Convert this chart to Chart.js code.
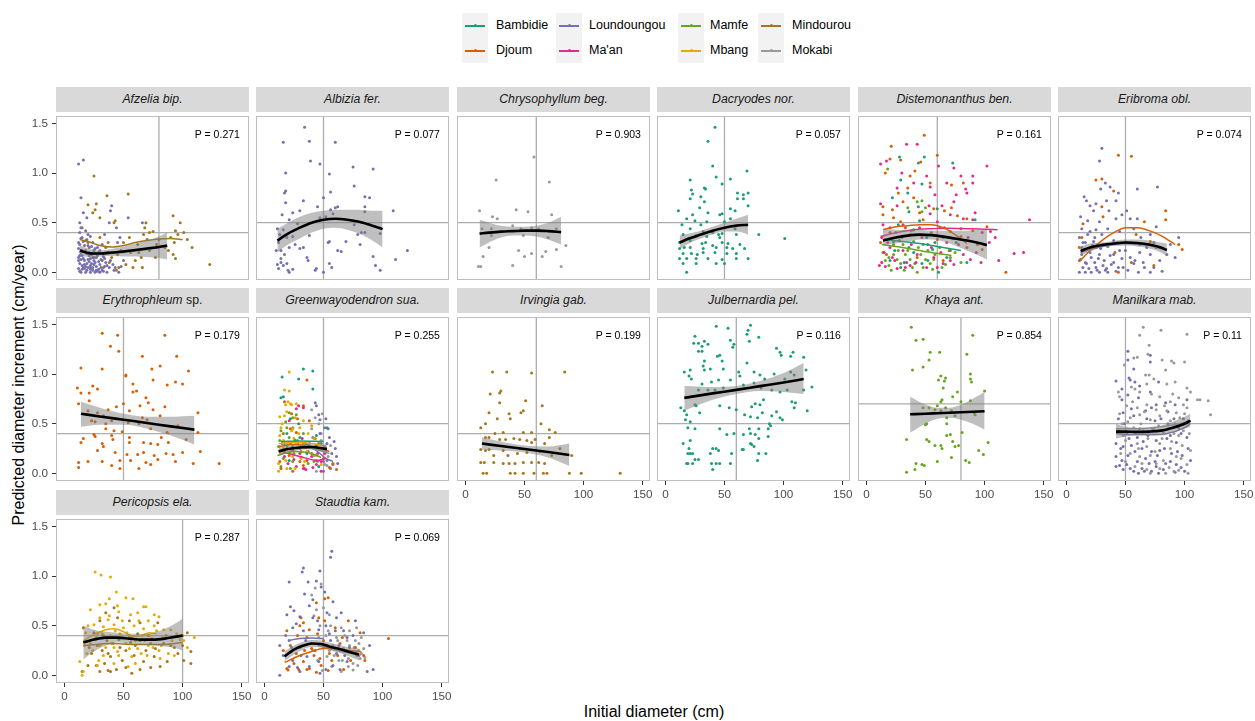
<!DOCTYPE html>
<html>
<head>
<meta charset="utf-8">
<script src="https://cdn.jsdelivr.net/npm/chart.js@4/dist/chart.umd.min.js"></script>
<style>
  body { margin: 0; background: #fff; font-family: "Liberation Sans", Arial, sans-serif; }
  #wrap { position: relative; width: 1255px; height: 721px; overflow: hidden; }
  .strip { position: absolute; height: 25px; background: #D9D9D9; color: #1A1A1A; font-size: 12.3px;
           line-height: 25px; text-align: center; font-style: italic; white-space: nowrap; }
  .strip span { font-style: normal; }
  .panel { position: absolute; }
  .key { position: absolute; width: 26px; height: 25px; background: #F2F2F2; }
  .key i { position: absolute; left: 3px; right: 3px; top: 11.5px; height: 2px; }
  .key b { position: absolute; left: 11.5px; top: 11px; width: 3px; height: 3px; border-radius: 2px; }
  .lab { position: absolute; font-size: 12.5px; line-height: 25px; color: #000; white-space: nowrap; }
  .title { position: absolute; font-size: 16px; color: #000; white-space: nowrap; transform: translate(-50%, -50%); }
  #ytitle { transform: translate(-50%, -50%) rotate(-90deg); }
</style>
</head>
<body>
<div id="wrap">
  <div id="legend"></div>
  <div class="title" id="ytitle" style="left:19px; top:385px;">Predicted diameter increment (cm/year)</div>
  <div class="title" style="left:654px; top:712px;">Initial diameter (cm)</div>
</div>
<script>
const regions = ['Bambidie', 'Djoum', 'Loundoungou', "Ma'an", 'Mamfe', 'Mbang', 'Mindourou', 'Mokabi'];
const regionColors = ['#1B9E77', '#D95F02', '#7570B3', '#E7298A', '#66A61E', '#E6AB02', '#A6761D', '#999999'];

const species = ['Afzelia bip.', 'Albizia fer.', 'Chrysophyllum beg.', 'Dacryodes nor.', 'Distemonanthus ben.',
  'Eribroma obl.', 'Erythrophleum sp.', 'Greenwayodendron sua.', 'Irvingia gab.', 'Julbernardia pel.',
  'Khaya ant.', 'Manilkara mab.', 'Pericopsis ela.', 'Staudtia kam.'];
const pValues = ['0.271', '0.077', '0.903', '0.057', '0.161', '0.074', '0.179', '0.255', '0.199', '0.116', '0.854', '0.11', '0.287', '0.069'];
// reference diameter (vertical) and increment (horizontal) per species
const refX = [80, 50, 60, 50, 60, 50, 50, 50, 60, 60, 80, 50, 100, 50];
const refY = [0.4, 0.5, 0.5, 0.5, 0.5, 0.4, 0.4, 0.5, 0.4, 0.5, 0.7, 0.5, 0.4, 0.4];

const xTicks = [0, 50, 100, 150];
const yTicks = [0, 0.5, 1, 1.5];

// trees: [initial diameter, increment] by region
const afzeliaPts = {
  Loundoungou: [[12,1.09],[16,1.13],[14,0.75],[16,0.6],[19,0.55],[13,0.5],[14,0.45],[18,0.42],[20,0.38],[22,0.36],[15,0.35],[24,0.3],[13,0.28],[17,0.27],[21,0.25],[26,0.24],[30,0.22],[14,0.2],[19,0.19],[23,0.18],[28,0.17],[33,0.16],[12,0.15],[16,0.14],[20,0.13],[25,0.12],[29,0.11],[35,0.1],[13,0.09],[17,0.08],[22,0.07],[27,0.06],[31,0.05],[38,0.05],[12,0.04],[15,0.03],[19,0.02],[24,0.02],[28,0.01],[33,0.01],[14,0],[18,0],[22,0],[26,0],[30,0],[36,0],[42,0.02],[12,0.12],[15,0.22],[18,0.32],[21,0.11],[24,0.05],[27,0.15],[32,0.28],[37,0.2],[40,0.67],[39,0.62],[38,0.5],[44,0.45],[54,0.55],[66,0.5],[45,0.3],[50,0.12],[47,0.35],[41,0.08],[34,0.38],[13,0.4],[16,0.31],[20,0.05],[23,0.26],[13,0.01],[17,0.04],[25,0.08],[29,0.03],[34,0.06],[15,0.17],[19,0.09],[22,0.14],[26,0.19],[31,0.13],
    [12,0.24],[14,0.34],[16,0.05],[18,0.2],[20,0.27],[21,0.17],[23,0.09],[25,0.22],[27,0.02],[29,0.2],[30,0.08],[32,0.02],[34,0.14],[36,0.07],[39,0.12],[43,0.05],[46,0],[48,0.06],[13,0.17],[15,0.07],[17,0.12],[19,0.33],[21,0.2],[24,0.15],[28,0.25],[12,0.3],[14,0.13],[18,0.06],[22,0.03],[26,0.1]],
  Mindourou: [[25,0.97],[54,0.79],[36,0.77],[27,0.69],[20,0.68],[26,0.63],[24,0.6],[30,0.55],[43,0.52],[42,0.5],[92,0.57],[98,0.5],[69,0.5],[68,0.45],[94,0.42],[101,0.4],[67,0.38],[72,0.4],[75,0.41],[90,0.35],[93,0.3],[108,0.25],[123,0.08],[92,0.18],[94,0.14],[58,0.05],[46,0.05],[33,0.05],[50,0.3],[62,0.28],[80,0.33],[85,0.25],[56,0.2],[40,0.15],[30,0.35],[35,0.25],[60,0.12],[72,0.22],[45,0.18],[20,0.3],[15,0.45],[38,0.1],[52,0.08],[65,0.15],[78,0.28],
    [18,0.22],[25,0.15],[32,0.12],[37,0.3],[48,0.22],[55,0.35],[63,0.2],[70,0.33],[77,0.15],[88,0.22],[96,0.38],[104,0.33],[22,0.05],[44,0.02],[66,0.05]]
};
const albiziaPts = {
  Loundoungou: [[34,1.46],[16,1.31],[38,1.32],[60,1.31],[39,1.12],[47,1.09],[18,1.0],[55,0.99],[75,1.06],[92,1.04],[76,0.87],[18,0.82],[17,0.8],[56,0.81],[18,0.7],[33,0.72],[85,0.76],[89,0.75],[30,0.62],[24,0.6],[15,0.58],[45,0.66],[50,0.75],[56,0.63],[60,0.65],[62,0.66],[85,0.66],[85,0.61],[109,0.62],[21,0.53],[28,0.49],[47,0.55],[52,0.56],[58,0.59],[76,0.48],[79,0.38],[82,0.4],[85,0.4],[98,0.39],[11,0.44],[13,0.38],[16,0.43],[19,0.35],[24,0.36],[38,0.37],[54,0.3],[55,0.31],[69,0.31],[81,0.28],[10,0.22],[14,0.22],[17,0.18],[21,0.25],[26,0.28],[30,0.24],[33,0.25],[36,0.15],[37,0.12],[62,0.22],[65,0.21],[55,0.09],[57,0.05],[44,0.04],[50,0],[43,0.02],[24,0.03],[21,0],[12,0.04],[16,0.07],[14,0.1],[11,0.08],[19,0.09],[92,0.16],[94,0.07],[98,0.02],[111,0.13],[121,0.22],[12,0.3],[14,0.14],[20,0.02]]
};
const chrysoPts = {
  Mokabi: [[58,1.16],[26,0.93],[71,0.91],[12,0.62],[23,0.56],[27,0.54],[43,0.63],[53,0.61],[73,0.58],[14,0.44],[22,0.44],[40,0.47],[47,0.44],[56,0.45],[62,0.44],[77,0.44],[22,0.37],[49,0.37],[70,0.35],[85,0.27],[20,0.25],[45,0.22],[50,0.16],[56,0.19],[68,0.21],[77,0.23],[15,0.16],[65,0.16],[11,0.06],[13,0.06],[40,0.07],[81,0.06]]
};
const dacryodesPts = {
  Bambidie: [[42,1.46],[36,1.32],[40,1.07],[21,0.93],[43,0.96],[48,0.89],[55,0.94],[69,1.02],[33,0.85],[34,0.84],[22,0.83],[23,0.79],[30,0.76],[21,0.74],[33,0.71],[61,0.8],[66,0.78],[70,0.8],[61,0.74],[66,0.74],[70,0.67],[11,0.62],[29,0.65],[46,0.58],[23,0.58],[36,0.6],[55,0.64],[59,0.62],[18,0.54],[25,0.52],[30,0.48],[35,0.51],[50,0.51],[48,0.59],[55,0.54],[14,0.48],[21,0.44],[32,0.41],[40,0.4],[48,0.39],[45,0.38],[59,0.44],[15,0.38],[26,0.37],[35,0.36],[46,0.35],[60,0.38],[79,0.38],[101,0.34],[12,0.3],[21,0.32],[31,0.29],[34,0.3],[40,0.27],[48,0.3],[53,0.29],[63,0.28],[12,0.24],[16,0.25],[21,0.25],[32,0.24],[43,0.25],[52,0.25],[57,0.24],[67,0.24],[15,0.19],[22,0.19],[27,0.18],[32,0.2],[42,0.2],[52,0.19],[60,0.19],[12,0.14],[18,0.14],[26,0.14],[36,0.14],[48,0.13],[60,0.14],[70,0.14],[15,0.09],[26,0.09],[43,0.09],[50,0.09],[18,0]]
};
const distemonPts = {
  Djoum: [[21,1.27],[49,1.38],[16,1.0],[20,1.14],[29,1.13],[46,1.11],[41,1.02],[37,0.97],[54,0.9],[72,0.88],[82,0.9],[14,0.66],[22,0.63],[31,0.71],[40,0.75],[14,0.58],[57,0.64],[66,0.62],[77,0.57],[85,0.54],[102,0.46],[118,0],[98,0.23],[94,0.28],[71,0.41],[29,0.51],[48,0.53],[20,0.4],[37,0.38],[60,0.33],[80,0.36],[17,0.18],[43,0.15],[65,0.12],[85,0.25],
    [12,0.3],[23,0.55],[33,0.45],[45,0.6],[52,0.28],[62,0.45],[70,0.22],[90,0.42],[27,0.8],[35,0.85],[72,0.65]],
  Bambidie: [[49,1.16],[44,1.1],[28,1.16],[73,1.1],[29,0.93],[47,0.89],[22,0.75],[44,0.66],[36,0.61],[60,0.64],[92,0.53],[80,0.44],[27,0.48],[40,0.43],[51,0.35],[65,0.35],[23,0.31],[36,0.25],[56,0.23],[71,0.22],[20,0.12],[61,0],[47,0.09],[29,0.05],
    [24,0.22],[32,0.1],[40,0.2],[52,0.12],[58,0.3],[68,0.15],[76,0.3],[85,0.1],[45,0.52],[35,0.8]],
  "Ma'an": [[34,1.29],[43,1.29],[12,1.09],[17,1.12],[30,1.0],[51,0.97],[61,1.07],[74,1.05],[102,1.07],[80,0.97],[90,0.97],[90,0.9],[54,0.86],[68,0.9],[84,0.84],[85,0.8],[76,0.78],[12,0.69],[26,0.67],[53,0.67],[64,0.67],[74,0.71],[54,0.59],[71,0.58],[82,0.54],[90,0.53],[138,0.53],[14,0.48],[31,0.48],[60,0.51],[105,0.41],[109,0.35],[104,0.3],[125,0.19],[133,0.2],[13,0.35],[20,0.25],[31,0.22],[43,0.18],[57,0.15],[71,0.12],[82,0.18],[13,0.1],[16,0.06],[26,0.04],[37,0.07],[51,0.05],[65,0.09],[88,0.13],[97,0.1],[11,0.07],[22,0.15],[34,0.1],
    [15,0.2],[18,0.3],[24,0.12],[28,0.32],[33,0.05],[38,0.28],[42,0.1],[47,0.35],[55,0.25],[60,0.05],[63,0.2],[68,0.3],[74,0.08],[78,0.28],[86,0.35],[93,0.2],[98,0.4],[112,0.12],[45,0.45],[20,0.45],[66,0.45],[92,0.6],[26,0.85],[40,0.9],[58,0.78]],
  Mamfe: [[18,1.04],[47,0.72],[43,0.71],[50,0.65],[35,0.65],[47,0.61],[23,0.18],[26,0.13],[29,0.09],[33,0.18],[37,0.13],[41,0.09],[46,0.18],[50,0.13],[54,0.09],[58,0.18],[16,0.12],[19,0.07],[43,0],[56,0.03],[31,0.28],[40,0.31],[48,0.28],[30,0.35],[23,0.28],[64,0.05],[71,0.15],
    [14,0.2],[19,0.15],[21,0.02],[27,0.22],[32,0.02],[35,0.22],[39,0.05],[44,0.25],[48,0.05],[52,0.22],[57,0.13],[62,0.25],[67,0.08],[75,0.2],[80,0.1],[25,0.4],[38,0.42],[55,0.4]],
  Mindourou: [[60,1.18]]
};
const eribromaPts = {
  Loundoungou: [[30,1.25],[28,1.12],[33,0.9],[37,0.86],[29,0.84],[60,0.84],[77,0.86],[44,0.8],[15,0.76],[17,0.72],[20,0.67],[25,0.69],[34,0.72],[42,0.72],[23,0.62],[36,0.62],[51,0.62],[47,0.58],[12,0.56],[18,0.52],[28,0.51],[42,0.54],[54,0.54],[60,0.54],[76,0.46],[13,0.44],[20,0.41],[25,0.43],[35,0.44],[45,0.41],[57,0.44],[71,0.38],[95,0.35],[11,0.35],[16,0.3],[23,0.31],[31,0.28],[40,0.32],[51,0.3],[62,0.28],[76,0.25],[85,0.18],[92,0.15],[13,0.25],[20,0.2],[28,0.18],[37,0.17],[45,0.22],[54,0.15],[62,0.2],[71,0.18],[12,0.13],[17,0.09],[24,0.1],[31,0.07],[40,0.1],[48,0.05],[57,0.09],[65,0.1],[74,0.05],[81,0.01],[11,0],[16,0],[21,0],[28,0],[35,0],[42,0.01],[61,0],[14,0.05],[25,0.05],[34,0.04],[71,0],
    [13,0.18],[14,0.3],[16,0.1],[18,0.38],[19,0.04],[21,0.15],[22,0.27],[24,0.35],[26,0.02],[27,0.14],[29,0.24],[30,0.38],[32,0.12],[33,0.02],[35,0.26],[38,0.08],[40,0.18],[43,0.3],[44,0.05],[47,0.14],[50,0.22],[52,0.02],[55,0.3],[58,0.12],[63,0.35],[66,0.05],[68,0.25],[74,0.3],[79,0.12],[88,0.28]],
  Djoum: [[44,1.18],[55,1.17],[25,0.93],[30,0.94],[40,0.82],[84,0.62],[84,0.53],[66,0.51],[31,0.56],[30,0.66],[14,0.49],[13,0.35],[11,0.25],[11,0.12],[59,0.38],[71,0.31],[98,0.23],[74,0.07],[44,0],[55,0.1],[95,0.28],[25,0.25],[41,0.2]]
};
const erythroPts = {
  Djoum: [[32,1.41],[45,1.39],[85,1.39],[39,1.28],[46,1.23],[66,1.18],[95,1.18],[14,1.06],[32,1.05],[74,1.05],[81,1.08],[105,1.03],[52,0.99],[52,0.98],[75,0.94],[11,0.86],[14,0.81],[24,0.88],[21,0.81],[28,0.85],[58,0.9],[61,0.83],[58,0.82],[87,0.89],[94,0.92],[100,0.9],[69,0.76],[71,0.71],[64,0.68],[21,0.73],[12,0.7],[44,0.67],[50,0.7],[37,0.64],[55,0.63],[85,0.67],[75,0.64],[20,0.63],[28,0.61],[33,0.58],[23,0.53],[26,0.52],[35,0.5],[40,0.53],[66,0.56],[70,0.54],[81,0.58],[113,0.61],[96,0.48],[63,0.5],[54,0.51],[35,0.45],[42,0.43],[49,0.42],[73,0.45],[87,0.41],[113,0.41],[25,0.39],[26,0.37],[40,0.38],[55,0.36],[82,0.36],[103,0.34],[16,0.35],[14,0.31],[32,0.3],[41,0.34],[55,0.31],[67,0.31],[73,0.3],[79,0.29],[88,0.31],[28,0.23],[33,0.27],[43,0.21],[53,0.19],[62,0.19],[67,0.21],[76,0.18],[86,0.2],[92,0.19],[100,0.21],[115,0.22],[47,0.13],[56,0.13],[69,0.11],[79,0.14],[94,0.12],[20,0.12],[32,0.12],[12,0.11],[12,0.06],[40,0.08],[47,0.05],[63,0.05],[73,0.09],[109,0.1],[131,0.1]]
};
const greenwayPts = {
  Bambidie: [[33,1.05],[41,1.03],[15,0.97],[29,0.95],[41,0.85],[14,0.76],[16,0.77],[19,0.4],[30,0.36],[44,0.38],[24,0.27],[36,0.2],[21,0.13],[46,0.07],[53,0.46],
    [17,0.3],[26,0.33],[35,0.3],[42,0.25],[22,0.55],[29,0.5]],
  Mbang: [[21,1.02],[17,0.84],[21,0.83],[18,0.69],[23,0.69],[13,0.57],[17,0.58],[26,0.56],[33,0.53],[14,0.46],[23,0.43],[30,0.46],[37,0.4],[16,0.33],[27,0.3],[38,0.27],[14,0.2],[24,0.17],[34,0.12],[44,0.18],[19,0.05],[12,0.02],[48,0.09],[40,0.48],[19,0.62],
    [13,0.38],[16,0.25],[20,0.3],[22,0.22],[25,0.35],[28,0.25],[31,0.15],[35,0.3],[12,0.1],[18,0.13],[26,0.05],[29,0.4],[15,0.5],[24,0.45],[36,0.22],[42,0.35],[20,0.72],[22,0.7],[27,0.7]],
  Djoum: [[36,0.94],[17,0.72],[33,0.68],[23,0.6],[38,0.53],[27,0.41],[43,0.35],[19,0.25],[31,0.22],[44,0.13],[55,0.06],[61,0.04],[13,0.12],[24,0.02],
    [15,0.3],[21,0.18],[26,0.32],[30,0.12],[35,0.26],[40,0.2],[46,0.3],[50,0.15],[58,0.1],[14,0.05],[22,0.45],[28,0.55],[33,0.08]],
  "Ma'an": [[29,0.68],[33,0.66],[21,0.53],[30,0.2],[36,0.13],[40,0.17],[44,0.09],[48,0.12],[27,0.07],[33,0.05],[38,0.27],[44,0.28],[24,0.23],[17,0.17],[51,0.2],
    [20,0.1],[25,0.14],[28,0.3],[35,0.04],[41,0.06],[45,0.2],[32,0.35],[37,0.22],[48,0.02],[22,0.3],[27,0.65]],
  Mamfe: [[21,0.61],[27,0.59],[14,0.43],[21,0.36],[33,0.4],[12,0.27],[17,0.22],[24,0.12],[14,0.07],[30,0.25],[37,0.1],[19,0.46],
    [13,0.33],[16,0.15],[19,0.28],[22,0.05],[25,0.2],[28,0.33],[31,0.16],[34,0.05],[38,0.3],[42,0.12],[18,0.52],[24,0.56]],
  Loundoungou: [[43,0.71],[44,0.68],[46,0.59],[47,0.54],[51,0.46],[54,0.45],[55,0.36],[60,0.25],[57,0.2],[61,0.17],[53,0.13],[58,0.09],[50,0.02],[48,0.3],[41,0.36],
    [45,0.25],[50,0.12],[53,0.3],[56,0.05],[59,0.32],[62,0.1],[47,0.4],[52,0.55]],
  Mokabi: [[40,0.64],[46,0.5],[43,0.56],[48,0.4],[47,0.25],[51,0.27],[54,0.17],[51,0.09],[44,0.02],
    [38,0.3],[42,0.18],[45,0.12],[48,0.33],[53,0.08],[56,0.28],[40,0.45],[49,0.6]],
  Mindourou: [[16,0.4],[24,0.46],[33,0.3]]
};
const irvingiaPts = {
  Mindourou: [[23,1.02],[35,1.02],[56,1.01],[84,1.02],[30,0.83],[29,0.81],[21,0.8],[51,0.73],[65,0.68],[20,0.61],[29,0.71],[37,0.6],[38,0.55],[47,0.61],[49,0.63],[27,0.55],[17,0.5],[13,0.46],[32,0.41],[25,0.4],[49,0.41],[56,0.41],[64,0.5],[71,0.44],[76,0.41],[17,0.36],[20,0.36],[29,0.34],[34,0.34],[41,0.35],[46,0.34],[52,0.33],[59,0.34],[67,0.3],[71,0.36],[13,0.24],[17,0.23],[20,0.24],[24,0.18],[32,0.23],[36,0.18],[44,0.2],[52,0.21],[63,0.22],[73,0.18],[80,0.25],[90,0.18],[13,0.11],[16,0.11],[24,0.11],[32,0.1],[37,0.1],[42,0.1],[49,0.11],[56,0.11],[62,0.11],[67,0.1],[15,0],[18,0],[38,0],[42,0],[49,0],[58,0],[66,0],[69,0],[88,0],[98,0],[131,0],[56,0.31],[46,0.25]]
};
const julberPts = {
  Bambidie: [[43,1.48],[53,1.46],[72,1.49],[70,1.44],[69,1.4],[79,1.37],[25,1.38],[24,1.31],[28,1.31],[33,1.33],[36,1.3],[31,1.28],[28,1.23],[31,1.23],[55,1.34],[58,1.3],[57,1.27],[71,1.33],[94,1.26],[97,1.22],[98,1.19],[108,1.22],[106,1.18],[117,1.17],[44,1.18],[46,1.19],[33,1.13],[48,1.13],[69,1.11],[32,1.08],[38,1.05],[16,1.02],[21,1.04],[20,0.98],[22,0.95],[33,1.04],[49,1.05],[62,1.02],[75,1.02],[80,0.99],[84,0.95],[92,1.0],[101,0.95],[106,1.02],[119,1.04],[109,0.99],[124,0.87],[31,0.9],[39,0.92],[45,0.94],[36,0.84],[55,0.94],[63,0.98],[66,0.89],[75,0.91],[81,0.86],[90,0.84],[97,0.82],[103,0.84],[117,0.84],[28,0.84],[42,0.84],[49,0.86],[25,0.69],[26,0.68],[13,0.66],[16,0.63],[18,0.59],[17,0.54],[21,0.52],[29,0.61],[46,0.68],[54,0.66],[60,0.64],[73,0.67],[83,0.74],[76,0.7],[80,0.69],[94,0.62],[90,0.58],[82,0.61],[67,0.59],[72,0.57],[78,0.56],[97,0.56],[99,0.54],[107,0.72],[110,0.71],[109,0.66],[120,0.63],[19,0.46],[25,0.45],[46,0.45],[71,0.45],[79,0.45],[88,0.5],[89,0.48],[87,0.45],[15,0.3],[21,0.33],[20,0.25],[52,0.39],[58,0.4],[66,0.39],[72,0.4],[76,0.39],[79,0.35],[87,0.37],[19,0.2],[21,0.2],[23,0.2],[38,0.2],[40,0.25],[43,0.25],[45,0.23],[56,0.2],[65,0.24],[66,0.24],[72,0.3],[73,0.29],[75,0.27],[79,0.2],[85,0.2],[25,0.14],[28,0.14],[18,0.1],[19,0.1],[23,0.1],[39,0.1],[43,0.1],[46,0.1],[55,0.1],[78,0.13],[40,0.04]]
};
const khayaPts = {
  Mamfe: [[38,1.47],[48,1.35],[42,1.34],[90,1.39],[54,1.22],[85,1.2],[53,1.14],[39,1.04],[48,1.07],[62,1.22],[63,0.98],[61,0.94],[67,0.96],[66,0.93],[88,1.0],[88,0.95],[89,0.92],[100,0.83],[65,0.86],[77,0.82],[64,0.74],[63,0.72],[73,0.77],[80,0.72],[88,0.73],[48,0.66],[53,0.66],[60,0.68],[67,0.66],[58,0.64],[63,0.63],[72,0.63],[91,0.61],[92,0.59],[68,0.56],[75,0.58],[50,0.49],[51,0.5],[68,0.5],[103,0.31],[34,0.34],[51,0.34],[53,0.32],[58,0.28],[63,0.28],[64,0.25],[68,0.38],[71,0.39],[73,0.32],[75,0.27],[78,0.28],[81,0.41],[95,0.23],[99,0.19],[72,0.16],[60,0.12],[84,0.13],[87,0.11],[42,0.1],[47,0.09],[49,0.08],[41,0.04],[34,0.01]]
};
const manilkaraPts = {
  Mokabi: [[65,1.47],[62,1.39],[80,1.44],[102,1.4],[70,1.29],[69,1.2],[57,1.16],[60,1.17],[81,1.14],[89,1.13],[91,1.11],[100,1.12],[49,1.09],[84,1.04],[67,0.99],[70,0.99],[74,0.95],[85,0.9],[92,0.92],[102,0.86],[105,0.82],[111,0.74],[113,0.74],[120,0.73],[122,0.59],[44,0.82],[45,0.77],[55,0.87],[62,0.82],[79,0.77],[88,0.72],[95,0.76],[99,0.69],[51,0.68],[60,0.66],[68,0.69],[76,0.64],[85,0.63],[93,0.61],[102,0.66],[54,0.56],[62,0.59],[71,0.54],[79,0.58],[88,0.53],[96,0.56],[103,0.53],[47,0.5],[57,0.46],[65,0.43],[74,0.45],[82,0.41],[91,0.4],[99,0.43],[50,0.33],[60,0.3],[68,0.27],[79,0.3],[88,0.25],[98,0.28],[105,0.23],[54,0.2],[62,0.17],[71,0.18],[82,0.13],[93,0.17],[102,0.09],[58,0.07],[68,0.04],[79,0.05],[91,0.02],[103,0],[84,0],[71,0],
    [45,0.6],[48,0.38],[52,0.52],[56,0.72],[58,0.4],[61,0.25],[63,0.5],[66,0.62],[69,0.35],[72,0.8],[75,0.22],[78,0.48],[81,0.35],[83,0.68],[86,0.45],[89,0.32],[92,0.5],[95,0.38],[97,0.15],[100,0.6],[104,0.4],[46,0.2],[50,0.12],[64,0.1],[76,0.1],[87,0.06],[95,0.03],[58,0.85],[68,0.9],[90,0.8]],
  Loundoungou: [[52,1.23],[52,1.14],[71,1.19],[53,0.96],[54,0.94],[42,0.93],[71,1.12],[58,0.92],[78,0.92],[47,0.74],[52,0.79],[61,0.76],[71,0.82],[76,0.69],[84,0.71],[72,0.66],[92,0.69],[102,0.74],[48,0.61],[57,0.58],[67,0.63],[75,0.53],[86,0.5],[95,0.46],[44,0.43],[51,0.4],[60,0.36],[69,0.38],[76,0.33],[85,0.35],[93,0.31],[102,0.36],[42,0.3],[48,0.27],[55,0.28],[64,0.25],[72,0.22],[79,0.23],[89,0.2],[98,0.18],[105,0.13],[42,0.17],[47,0.13],[52,0.18],[60,0.12],[67,0.15],[75,0.12],[84,0.1],[93,0.09],[42,0.07],[48,0.04],[57,0.02],[64,0.05],[72,0.02],[82,0.04],[92,0.01],[100,0.02],[51,0.09],[61,0],[76,0.07],
    [44,0.55],[46,0.25],[49,0.5],[53,0.35],[55,0.65],[58,0.22],[62,0.45],[65,0.32],[68,0.55],[70,0.1],[73,0.45],[77,0.18],[80,0.55],[83,0.25],[86,0.62],[88,0.38],[91,0.55],[94,0.22],[97,0.4],[99,0.55],[103,0.25],[45,0.08],[54,0.05],[66,0.02],[78,0],[88,0.12],[97,0.06],[62,0.88],[57,1.05],[47,0.85]]
};
const pericopsisPts = {
  Mbang: [[26,1.04],[31,1.01],[39,0.99],[44,0.84],[52,0.78],[58,0.77],[38,0.77],[30,0.71],[22,0.66],[67,0.69],[69,0.69],[46,0.64],[56,0.61],[62,0.63],[76,0.61],[80,0.59],[30,0.58],[37,0.56],[49,0.55],[71,0.55],[25,0.51],[33,0.49],[42,0.51],[50,0.48],[59,0.5],[67,0.47],[76,0.5],[84,0.46],[90,0.46],[18,0.43],[28,0.42],[39,0.4],[47,0.42],[57,0.38],[66,0.4],[74,0.37],[83,0.38],[91,0.35],[98,0.36],[101,0.35],[22,0.32],[30,0.3],[42,0.28],[52,0.32],[62,0.27],[71,0.3],[80,0.25],[19,0.22],[33,0.2],[45,0.24],[57,0.19],[70,0.2],[81,0.17],[93,0.2],[13,0.14],[28,0.1],[42,0.12],[54,0.09],[15,0],[16,0.04],[110,0.38],[104,0.28],
    [17,0.3],[20,0.5],[24,0.25],[27,0.38],[29,0.15],[32,0.42],[35,0.28],[38,0.6],[40,0.32],[43,0.45],[46,0.2],[49,0.38],[53,0.43],[55,0.27],[60,0.35],[63,0.55],[65,0.22],[68,0.35],[72,0.4],[75,0.28],[78,0.45],[82,0.3],[86,0.38],[88,0.22],[95,0.42],[45,0.7],[35,0.72],[60,0.12]],
  Mindourou: [[42,0.68],[35,0.63],[45,0.58],[30,0.55],[55,0.55],[64,0.53],[79,0.53],[16,0.48],[25,0.43],[36,0.35],[46,0.36],[56,0.33],[64,0.35],[73,0.32],[84,0.32],[93,0.28],[100,0.3],[107,0.24],[23,0.22],[32,0.25],[39,0.19],[49,0.15],[59,0.2],[67,0.14],[76,0.19],[87,0.14],[101,0.15],[107,0.12],[27,0.1],[30,0.04],[37,0.05],[44,0.06],[57,0.02],[64,0.06],[81,0.09],[15,0.04],[104,0.43],[100,0.4],[39,0.04],
    [18,0.35],[21,0.28],[28,0.3],[33,0.4],[37,0.22],[41,0.32],[47,0.28],[52,0.25],[55,0.4],[60,0.3],[62,0.42],[69,0.25],[71,0.4],[77,0.27],[86,0.4],[90,0.3],[96,0.22],[34,0.12],[52,0.08],[73,0.08],[20,0.1]]
};
const staudtiaPts = {
  Loundoungou: [[57,1.25],[56,1.19],[33,1.08],[32,1.04],[47,1.05],[21,0.94],[37,0.94],[48,0.89],[51,0.84],[22,0.69],[25,0.65],[41,0.76],[53,0.63],[58,0.74],[19,0.61],[30,0.59],[41,0.58],[61,0.58],[65,0.63],[77,0.55],[24,0.48],[33,0.45],[46,0.46],[55,0.42],[67,0.45],[75,0.4],[84,0.43],[13,0.3],[21,0.35],[30,0.28],[40,0.32],[61,0.22],[72,0.28],[89,0.3],[16,0.2],[24,0.15],[36,0.19],[46,0.14],[58,0.1],[70,0.14],[87,0.04],[92,0.06],[13,0],[30,0.04],[47,0.02],[64,0.06],[38,0.09],[21,0.09],
    [18,0.4],[23,0.28],[27,0.52],[31,0.2],[35,0.35],[38,0.7],[43,0.25],[45,0.55],[50,0.3],[52,0.5],[56,0.35],[60,0.45],[63,0.3],[68,0.2],[70,0.38],[80,0.2],[34,0.82],[44,0.95],[28,0.08],[52,0.06]],
  Djoum: [[51,0.77],[54,0.78],[44,0.73],[31,0.58],[33,0.53],[46,0.58],[51,0.55],[71,0.55],[30,0.5],[38,0.46],[60,0.48],[81,0.43],[105,0.37],[19,0.45],[36,0.38],[50,0.35],[64,0.32],[77,0.28],[85,0.15],[16,0.25],[27,0.22],[40,0.27],[55,0.22],[70,0.24],[19,0.07],[29,0.06],[38,0.07],[44,0.03],[54,0.05],[67,0.06],[20,0.055],[33,0.14],[47,0.17],
    [22,0.3],[25,0.12],[28,0.4],[34,0.25],[36,0.06],[42,0.2],[45,0.42],[48,0.1],[53,0.3],[57,0.15],[62,0.2],[66,0.38],[73,0.15],[78,0.22],[84,0.2]],
  Mokabi: [[48,0.92],[43,0.88],[40,0.81],[44,0.66],[50,0.68],[55,0.61],[65,0.48],[72,0.45],[78,0.48],[54,0.45],[46,0.38],[61,0.38],[70,0.35],[77,0.35],[80,0.32],[82,0.38],[50,0.28],[58,0.3],[67,0.27],[74,0.24],[78,0.2],[81,0.17],[41,0.25],[53,0.19],[63,0.15],[71,0.17],[75,0.12],[57,0.09],[65,0.04],[75,0.055],[71,0.09],[82,0.22],[84,0.27],
    [42,0.6],[47,0.5],[52,0.4],[56,0.5],[59,0.2],[62,0.35],[66,0.15],[68,0.4],[72,0.3],[76,0.28],[79,0.1],[80,0.25],[45,0.15],[49,0.05],[55,0.25],[85,0.18]]
};

// overall smoother: [diameter, fit, lower, upper]
const afzeliaFit = [[13,0.22,0.17,0.27],[20,0.195,0.155,0.24],[25,0.19,0.155,0.225],[30,0.19,0.16,0.22],[40,0.2,0.165,0.235],[50,0.21,0.16,0.26],[60,0.225,0.16,0.29],[70,0.24,0.155,0.32],[80,0.255,0.145,0.36],[87,0.27,0.13,0.4]];
const albiziaFit = [[11,0.32,0.2,0.44],[20,0.39,0.28,0.5],[30,0.45,0.34,0.56],[40,0.5,0.4,0.6],[50,0.53,0.44,0.62],[60,0.54,0.45,0.63],[70,0.53,0.43,0.63],[80,0.51,0.39,0.63],[90,0.475,0.33,0.62],[100,0.435,0.25,0.62]];
const chrysoFit = [[12,0.39,0.25,0.53],[20,0.4,0.3,0.5],[30,0.41,0.35,0.47],[40,0.415,0.37,0.46],[50,0.42,0.37,0.46],[60,0.42,0.36,0.47],[70,0.415,0.33,0.5],[81,0.405,0.28,0.56]];
const dacryodesFit = [[12,0.3,0.23,0.37],[20,0.34,0.29,0.39],[30,0.38,0.34,0.42],[40,0.42,0.38,0.46],[50,0.45,0.41,0.5],[60,0.47,0.41,0.54],[70,0.48,0.38,0.58]];
const distemonFit = [[14,0.32,0.27,0.44],[25,0.35,0.29,0.43],[35,0.37,0.31,0.43],[45,0.38,0.33,0.43],[55,0.375,0.33,0.42],[65,0.36,0.31,0.42],[75,0.34,0.27,0.42],[85,0.32,0.22,0.42],[95,0.295,0.17,0.43],[102,0.275,0.13,0.43]];
const eribromaFit = [[12,0.215,0.17,0.26],[20,0.25,0.21,0.29],[30,0.275,0.25,0.3],[40,0.29,0.265,0.315],[50,0.3,0.27,0.33],[60,0.295,0.26,0.33],[70,0.28,0.24,0.32],[80,0.25,0.2,0.3],[85,0.225,0.16,0.29]];
const erythroFit = [[14,0.6,0.47,0.72],[30,0.573,0.49,0.66],[50,0.54,0.49,0.6],[70,0.507,0.45,0.57],[90,0.473,0.38,0.57],[110,0.44,0.29,0.58]];
const greenwayFit = [[12,0.22,0.17,0.27],[20,0.245,0.21,0.28],[30,0.26,0.235,0.285],[40,0.265,0.24,0.29],[50,0.25,0.21,0.29],[53,0.245,0.19,0.3]];
const irvingiaFit = [[14,0.3,0.24,0.36],[30,0.275,0.23,0.32],[50,0.245,0.21,0.28],[70,0.215,0.16,0.27],[88,0.185,0.075,0.3]];
const julberFit = [[16,0.76,0.63,0.88],[40,0.805,0.74,0.87],[60,0.84,0.8,0.88],[80,0.878,0.83,0.93],[100,0.915,0.82,1.01],[117,0.95,0.8,1.11]];
const khayaFit = [[37,0.595,0.41,0.77],[50,0.6,0.5,0.69],[60,0.605,0.55,0.66],[70,0.61,0.56,0.66],[80,0.615,0.54,0.69],[90,0.62,0.5,0.75],[100,0.625,0.44,0.82]];
const manilkaraFit = [[42,0.42,0.35,0.5],[50,0.42,0.37,0.47],[60,0.418,0.38,0.46],[70,0.42,0.38,0.46],[80,0.43,0.38,0.48],[90,0.46,0.41,0.52],[100,0.5,0.45,0.57],[105,0.53,0.47,0.6]];
const pericopsisFit = [[16,0.33,0.16,0.5],[25,0.36,0.24,0.46],[35,0.38,0.3,0.44],[45,0.38,0.33,0.43],[55,0.37,0.32,0.42],[65,0.36,0.31,0.42],[75,0.36,0.3,0.43],[85,0.37,0.29,0.47],[95,0.39,0.27,0.53],[100,0.4,0.25,0.57]];
const staudtiaFit = [[17,0.19,0.14,0.24],[25,0.26,0.21,0.3],[33,0.3,0.26,0.34],[40,0.32,0.285,0.355],[48,0.315,0.28,0.35],[55,0.29,0.255,0.33],[65,0.26,0.22,0.3],[72,0.235,0.19,0.28],[80,0.21,0.15,0.27]];

// smoothers per region (only where more than one region grows the species)
const afzeliaCurves = {
  Mindourou: [[13,0.33],[20,0.31],[30,0.27],[40,0.255],[50,0.27],[60,0.3],[70,0.32],[80,0.335],[90,0.34],[100,0.33]],
  Loundoungou: [[13,0.21],[20,0.19],[30,0.185],[40,0.19],[50,0.2],[60,0.215],[70,0.23],[80,0.25],[87,0.26]]
};
const distemonCurves = {
  Djoum: [[14,0.43],[25,0.46],[35,0.47],[45,0.48],[55,0.48],[65,0.45],[75,0.38],[85,0.29]],
  "Ma'an": [[12,0.36],[25,0.4],[40,0.43],[55,0.44],[70,0.445],[85,0.44],[100,0.435],[111,0.43]],
  Bambidie: [[17,0.33],[30,0.31],[45,0.29],[60,0.26],[80,0.22]],
  Mamfe: [[13,0.28],[25,0.26],[40,0.23],[55,0.2],[72,0.17]]
};
const eribromaCurves = {
  Djoum: [[12,0.12],[20,0.22],[30,0.32],[40,0.4],[50,0.45],[60,0.45],[70,0.42],[80,0.37],[92,0.28]],
  Loundoungou: [[12,0.2],[30,0.26],[50,0.29],[70,0.27],[85,0.22]]
};
const greenwayCurves = {
  Mbang: [[12,0.3],[25,0.31],[40,0.3],[50,0.28]],
  Djoum: [[12,0.27],[25,0.29],[40,0.27],[55,0.22]],
  Mamfe: [[11,0.18],[25,0.22],[40,0.2],[48,0.16]],
  "Ma'an": [[15,0.22],[30,0.17],[45,0.13],[52,0.15]],
  Mokabi: [[30,0.28],[40,0.25],[50,0.22],[55,0.2]],
  Loundoungou: [[35,0.3],[45,0.22],[52,0.15],[58,0.12]],
  Bambidie: [[14,0.32],[30,0.325],[50,0.32]]
};
const manilkaraCurves = {
  Mokabi: [[42,0.45],[60,0.45],[80,0.47],[95,0.5],[105,0.53]],
  Loundoungou: [[42,0.4],[55,0.39],[70,0.39],[85,0.4],[100,0.46],[105,0.5]]
};
const pericopsisCurves = {
  Mbang: [[16,0.35],[25,0.41],[35,0.46],[42,0.47],[50,0.44],[58,0.39],[65,0.4],[72,0.43],[78,0.42]],
  Mindourou: [[16,0.3],[40,0.32],[60,0.31],[80,0.31],[100,0.33]]
};
const staudtiaCurves = {
  Loundoungou: [[20,0.35],[30,0.37],[40,0.375],[50,0.37]],
  Djoum: [[17,0.13],[30,0.2],[40,0.24],[50,0.27],[60,0.27],[70,0.255],[82,0.235]],
  Mokabi: [[45,0.3],[55,0.27],[65,0.24],[75,0.22],[82,0.21]]
};

const panels = [
  { pts: afzeliaPts, fit: afzeliaFit, curves: afzeliaCurves },
  { pts: albiziaPts, fit: albiziaFit, curves: {} },
  { pts: chrysoPts, fit: chrysoFit, curves: {} },
  { pts: dacryodesPts, fit: dacryodesFit, curves: {} },
  { pts: distemonPts, fit: distemonFit, curves: distemonCurves },
  { pts: eribromaPts, fit: eribromaFit, curves: eribromaCurves },
  { pts: erythroPts, fit: erythroFit, curves: {} },
  { pts: greenwayPts, fit: greenwayFit, curves: greenwayCurves },
  { pts: irvingiaPts, fit: irvingiaFit, curves: {} },
  { pts: julberPts, fit: julberFit, curves: {} },
  { pts: khayaPts, fit: khayaFit, curves: {} },
  { pts: manilkaraPts, fit: manilkaraFit, curves: manilkaraCurves },
  { pts: pericopsisPts, fit: pericopsisFit, curves: pericopsisCurves },
  { pts: staudtiaPts, fit: staudtiaFit, curves: staudtiaCurves }
];

// facet grid geometry
const colLeft = [56, 256, 457, 657, 858, 1058];
const stripTop = [87, 288, 490];
const plotW = 193, plotH = 168, stripH = 25;
const xMin = -7.1, xMax = 156.2, yMin = -0.077, yMax = 1.574;

const colorOf = r => regionColors[regions.indexOf(r)];
const xy = arr => arr.map(p => ({ x: p[0], y: p[1] }));
const fontFamily = '"Liberation Sans", Arial, sans-serif';

Chart.defaults.font.family = fontFamily;
Chart.defaults.animation = false;

// legend: 4 columns of 2 keys
const legend = document.getElementById('legend');
const legKeyX = [462, 556, 678, 758];
const legTextX = [496, 589, 710, 792];
regions.forEach((r, k) => {
  const c = Math.floor(k / 2), row = k % 2;
  const top = 13 + row * 25;
  legend.insertAdjacentHTML('beforeend',
    `<div class="key" style="left:${legKeyX[c]}px;top:${top}px"><i style="background:${colorOf(r)}"></i><b style="background:${colorOf(r)}"></b></div>` +
    `<div class="lab" style="left:${legTextX[c]}px;top:${top}px">${r}</div>`);
});

// box and P value for each facet
const panelDecor = {
  id: 'panelDecor',
  afterDatasetsDraw(chart, args, opts) {
    const { ctx, chartArea: a, scales: { x, y } } = chart;
    ctx.save();
    ctx.strokeStyle = '#BEBEBE';
    ctx.lineWidth = 1;
    ctx.strokeRect(a.left + 0.5, a.top + 0.5, a.width - 1, a.height - 1);
    ctx.fillStyle = '#000';
    ctx.font = '10.5px ' + fontFamily;
    ctx.textAlign = 'right';
    ctx.textBaseline = 'middle';
    ctx.fillText('P = ' + opts.p, x.getPixelForValue(148.5), y.getPixelForValue(1.385));
    ctx.restore();
  }
};

const wrap = document.getElementById('wrap');

species.forEach((name, i) => {
  const row = Math.floor(i / 6), col = i % 6;
  const hasY = col === 0;
  const hasX = row === 2 || (row === 1 && col >= 2);
  const left = colLeft[col], top = stripTop[row];

  const strip = document.createElement('div');
  strip.className = 'strip';
  strip.style.cssText = `left:${left}px;top:${top}px;width:${plotW}px`;
  strip.innerHTML = name.endsWith(' sp.') ? name.replace(' sp.', ' <span>sp.</span>') : name;
  wrap.appendChild(strip);

  const box = document.createElement('div');
  box.className = 'panel';
  box.style.cssText = `left:${left - 50}px;top:${top + stripH}px`;
  const cv = document.createElement('canvas');
  cv.width = plotW + 60;
  cv.height = plotH + 30;
  box.appendChild(cv);
  wrap.appendChild(box);

  const P = panels[i];
  const ds = [];
  ds.push({ type: 'line', data: [{ x: refX[i], y: -1 }, { x: refX[i], y: 3 }], borderColor: '#ADADAD', borderWidth: 1.3, pointRadius: 0, order: 50 });
  ds.push({ type: 'line', data: [{ x: -50, y: refY[i] }, { x: 250, y: refY[i] }], borderColor: '#ADADAD', borderWidth: 1.3, pointRadius: 0, order: 50 });
  Object.keys(P.pts).forEach(r => {
    ds.push({ data: xy(P.pts[r]), backgroundColor: colorOf(r), borderWidth: 0, pointRadius: 1.5, order: 40 });
  });
  Object.keys(P.curves).forEach(r => {
    ds.push({ type: 'line', data: xy(P.curves[r]), borderColor: colorOf(r), borderWidth: 1.5, pointRadius: 0,
      cubicInterpolationMode: 'monotone', order: 30 });
  });
  ds.push({ type: 'line', data: P.fit.map(f => ({ x: f[0], y: f[2] })), borderWidth: 0, pointRadius: 0,
    cubicInterpolationMode: 'monotone', fill: false, order: 20 });
  ds.push({ type: 'line', data: P.fit.map(f => ({ x: f[0], y: f[3] })), borderWidth: 0, pointRadius: 0,
    cubicInterpolationMode: 'monotone', fill: '-1', backgroundColor: 'rgba(128,128,128,0.5)', order: 20 });
  ds.push({ type: 'line', data: P.fit.map(f => ({ x: f[0], y: f[1] })), borderColor: '#000', borderWidth: 2.6,
    pointRadius: 0, cubicInterpolationMode: 'monotone', order: 10 });

  const tickFont = { size: 11.7, family: fontFamily };
  const grid = { display: true, drawOnChartArea: false, drawTicks: true, tickLength: 4, tickColor: '#333333', tickWidth: 1 };

  new Chart(cv, {
    type: 'scatter',
    data: { datasets: ds },
    plugins: [panelDecor],
    options: {
      responsive: false,
      devicePixelRatio: 1,
      events: [],
      layout: { padding: { left: hasY ? 0 : 50, right: 10, top: 0, bottom: hasX ? 0 : 30 } },
      plugins: { legend: { display: false }, tooltip: { enabled: false }, panelDecor: { p: pValues[i] } },
      scales: {
        x: {
          type: 'linear', min: xMin, max: xMax, display: hasX,
          grid: grid, border: { display: false },
          ticks: { font: tickFont, color: '#4D4D4D', padding: 3, callback: v => String(v) },
          afterBuildTicks: s => { s.ticks = xTicks.map(v => ({ value: v })); },
          afterFit: hasX ? s => { s.height = 30; s.paddingLeft = 0; s.paddingRight = 0; } : undefined
        },
        y: {
          type: 'linear', min: yMin, max: yMax, display: hasY,
          grid: grid, border: { display: false },
          ticks: { font: tickFont, color: '#4D4D4D', padding: 4, callback: v => v.toFixed(1) },
          afterBuildTicks: s => { s.ticks = yTicks.map(v => ({ value: v })); },
          afterFit: hasY ? s => { s.width = 50; s.paddingTop = 0; s.paddingBottom = 0; } : undefined
        }
      }
    }
  });
});
</script>
</body>
</html>
